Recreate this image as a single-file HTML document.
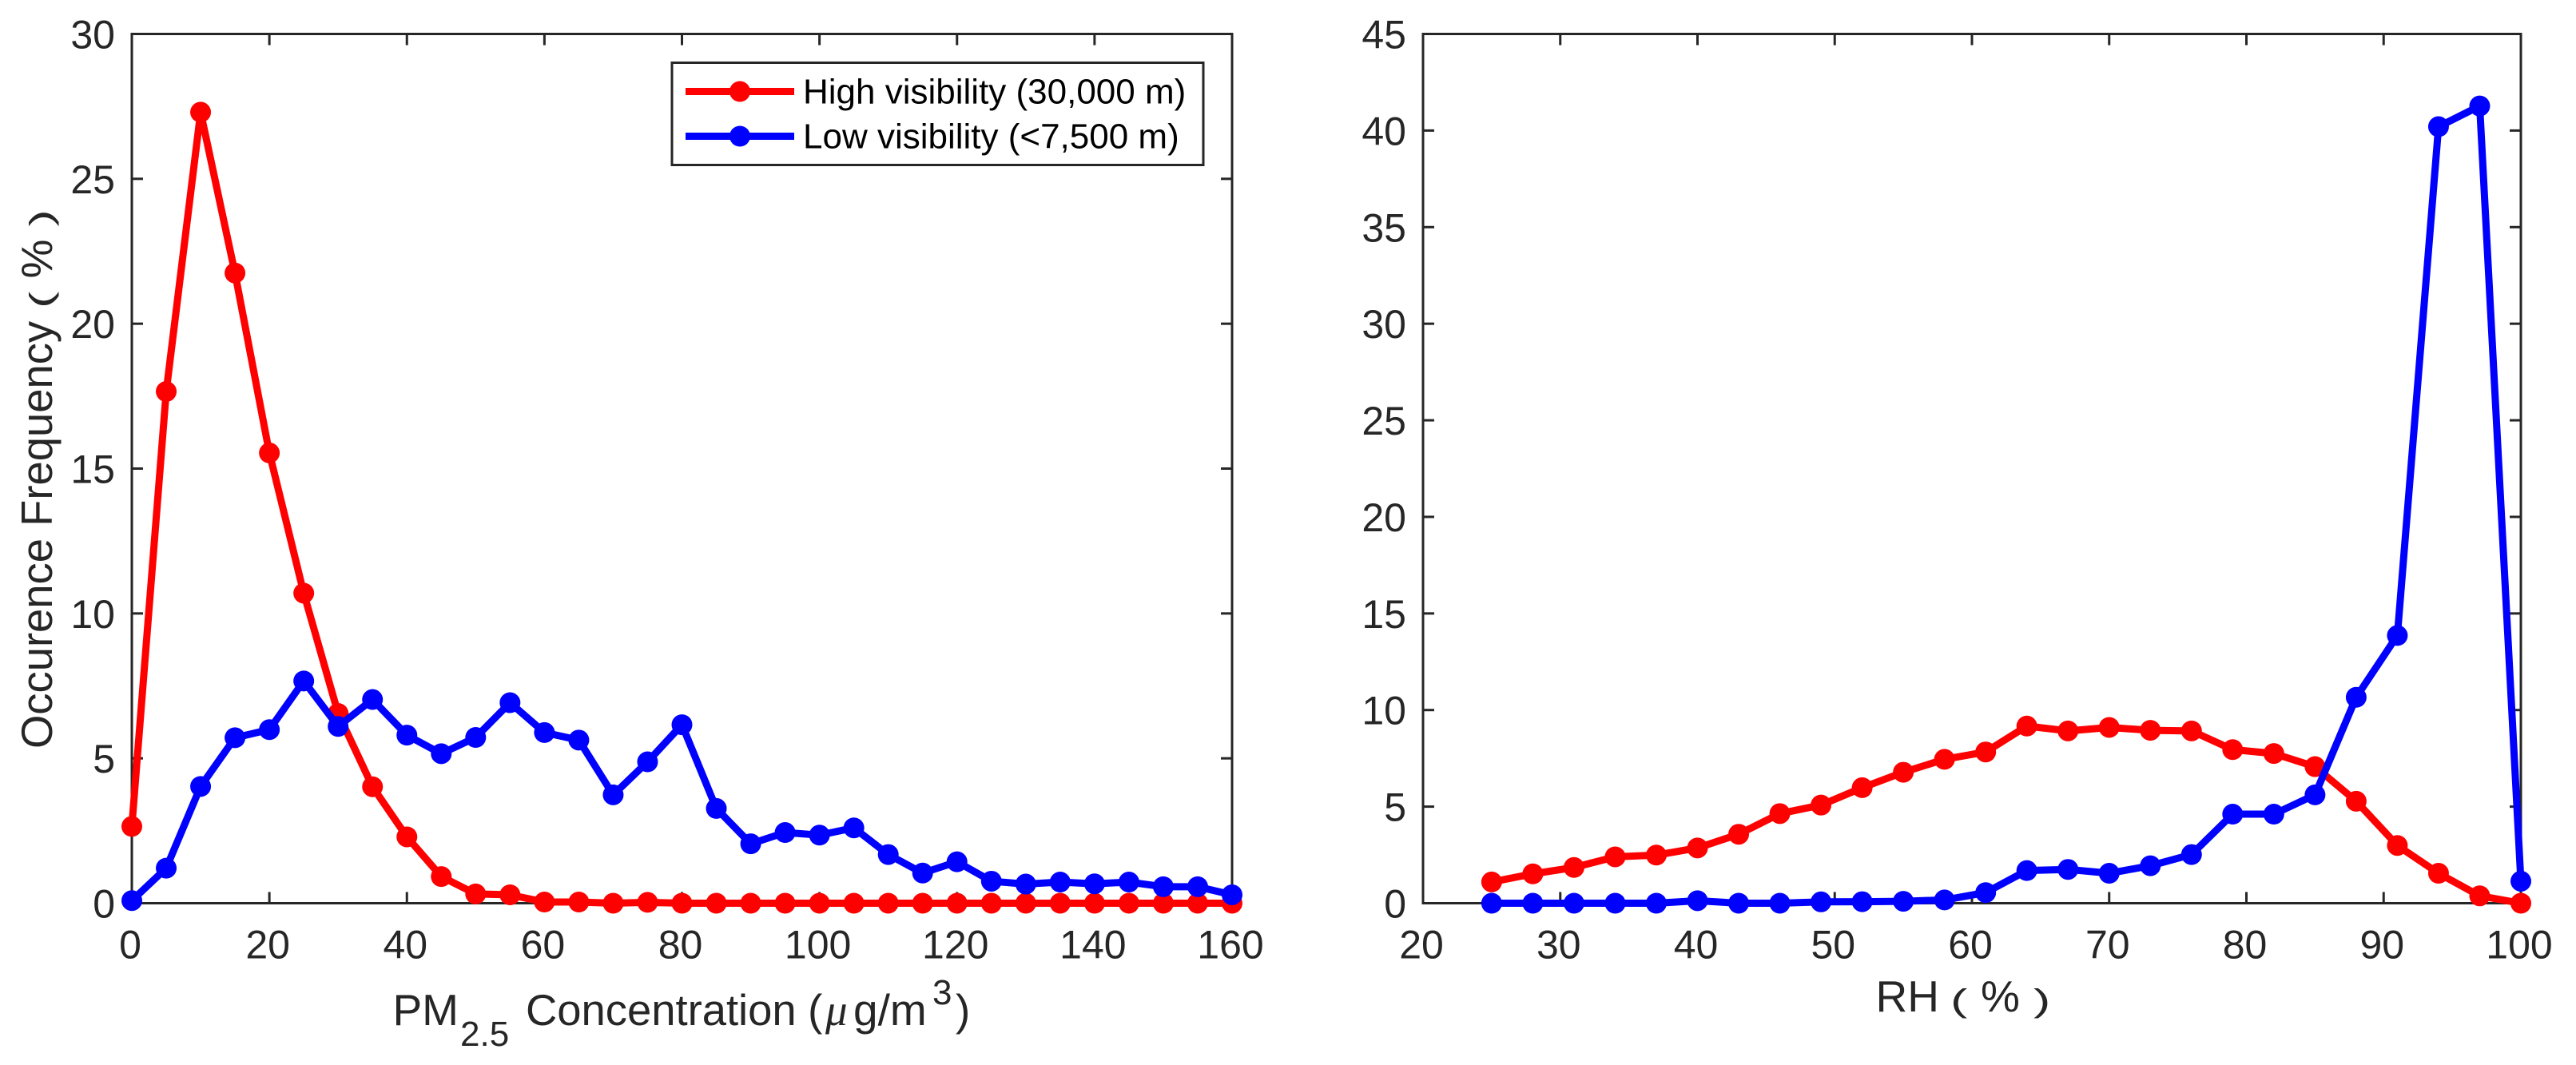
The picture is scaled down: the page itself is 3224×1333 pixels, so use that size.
<!DOCTYPE html>
<html lang="en">
<head>
<meta charset="utf-8">
<title>Occurrence frequency of PM2.5 and RH under high and low visibility</title>
<style>
  html, body { margin: 0; padding: 0; background: #ffffff; }
  body { width: 3224px; height: 1333px; overflow: hidden; }
  svg { display: block; font-family: "Liberation Sans", Arial, sans-serif; }
  .tick-label { font-size: 50px; fill: #262626; }
  .axis-title { font-size: 55px; fill: #262626; }
  .axis-title-tight { font-size: 54.4px; fill: #262626; }
  .axis-small { font-size: 44px; fill: #262626; }
  .paren { font-size: 40px; fill: #262626; }
  .legend-text { font-size: 44px; fill: #000000; }
</style>
</head>
<body>
<svg id="figure" xmlns="http://www.w3.org/2000/svg" width="3224" height="1333" viewBox="0 0 3224 1333">
  <rect x="0" y="0" width="3224" height="1333" fill="#ffffff"/>
  <g id="left-panel"></g>
  <g id="right-panel"></g>

  <g>
    <text class="axis-title" x="491.5" y="1283">PM</text>
    <text class="axis-small" x="576" y="1309">2.5</text>
    <text class="axis-title-tight" x="658" y="1283">Concentration</text>
    <text class="axis-title" x="1011" y="1283">(</text>
    <text class="axis-title" x="1033" y="1283" style="font-family:'Liberation Serif',serif;font-style:italic">μ</text>
    <text class="axis-title" x="1068" y="1283">g/m</text>
    <text class="axis-small" x="1167" y="1257">3</text>
    <text class="axis-title" x="1196" y="1283">)</text>
  </g>

  <g>
    <text class="axis-title-tight" transform="translate(65,937) rotate(-90)">Occurence Frequency</text>
    <text class="paren" transform="translate(65,386) rotate(-90) scale(1.6,1)">(</text>
    <text class="axis-title" transform="translate(65,348.5) rotate(-90)">%</text>
    <text class="paren" transform="translate(65,283.6) rotate(-90) scale(1.6,1)">)</text>
  </g>

  <g>
    <text class="axis-title" x="2347.5" y="1266">RH</text>
    <text class="paren" transform="translate(2441,1266) scale(1.6,1)">(</text>
    <text class="axis-title" x="2479" y="1266">%</text>
    <text class="paren" transform="translate(2545,1266) scale(1.6,1)">)</text>
  </g>

  <g id="legend">
    <rect x="841" y="78.5" width="665" height="128" fill="#ffffff" stroke="#262626" stroke-width="3"/>
    <g>
      <line x1="858" x2="994" y1="114.5" y2="114.5" stroke="#ff0000" stroke-width="9"/>
      <circle cx="926" cy="114.5" r="13" fill="#ff0000"/>
      <text class="legend-text" x="1005" y="129.5">High visibility (30,000 m)</text>
    </g>
    <g>
      <line x1="858" x2="994" y1="170.5" y2="170.5" stroke="#0000ff" stroke-width="9"/>
      <circle cx="926" cy="170.5" r="13" fill="#0000ff"/>
      <text class="legend-text" x="1005" y="185.5">Low visibility (&lt;7,500 m)</text>
    </g>
  </g>
</svg>

<script>
// Left panel data: PM2.5 concentration bins and occurrence frequency
const pmBins = [0,5,10,15,20,25,30,35,40,45,50,55,60,65,70,75,80,85,90,95,100,105,110,115,120,125,130,135,140,145,150,155,160];
const pmHigh = [2.65,17.66,27.3,21.75,15.54,10.7,6.55,4.02,2.29,0.92,0.32,0.29,0.04,0.04,0,0.03,0,0,0,0,0,0,0,0,0,0,0,0,0,0,0,0,0];
const pmLow = [0.09,1.21,4.03,5.71,5.99,7.67,6.1,7.03,5.8,5.16,5.72,6.92,5.89,5.63,3.74,4.88,6.16,3.27,2.05,2.44,2.35,2.6,1.68,1.04,1.43,0.76,0.66,0.73,0.67,0.73,0.57,0.57,0.29];
const pmXTicks = [0,20,40,60,80,100,120,140,160];
const pmYTicks = [0,5,10,15,20,25,30];

// Right panel data: relative humidity bins and occurrence frequency
const rhBins = [25,28,31,34,37,40,43,46,49,52,55,58,61,64,67,70,73,76,79,82,85,88,91,94,97,100];
const rhHigh = [1.1,1.52,1.85,2.4,2.49,2.86,3.57,4.64,5.08,5.98,6.78,7.45,7.83,9.17,8.92,9.1,8.95,8.92,7.95,7.75,7.07,5.28,2.99,1.55,0.38,0];
const rhLow = [0,0,0,0,0,0.13,0,0,0.07,0.08,0.1,0.17,0.55,1.69,1.75,1.55,1.94,2.52,4.61,4.61,5.61,10.66,13.86,40.2,41.27,1.14];
const rhXTicks = [20,30,40,50,60,70,80,90,100];
const rhYTicks = [0,5,10,15,20,25,30,35,40,45];

const SVG_NS = 'http://www.w3.org/2000/svg';
const INK = '#262626';

function make(parent, tag, attrs, text) {
  const el = document.createElementNS(SVG_NS, tag);
  for (const k in attrs) el.setAttribute(k, attrs[k]);
  if (text !== undefined) el.textContent = text;
  parent.appendChild(el);
  return el;
}

function drawPanel(root, box, xDomain, yDomain, xTicks, yTicks, series) {
  const sx = v => box.left + (v - xDomain[0]) / (xDomain[1] - xDomain[0]) * (box.right - box.left);
  const sy = v => box.bottom - (v - yDomain[0]) / (yDomain[1] - yDomain[0]) * (box.bottom - box.top);
  const tickLen = 14;

  const frame = make(root, 'rect', {x: box.left, y: box.top, width: box.right - box.left, height: box.bottom - box.top, fill: 'none', stroke: INK, 'stroke-width': 3});
  
  

  xTicks.forEach(t => {
    const x = sx(t);
    const bottomTick = make(root, 'line', {x1: x, x2: x, y1: box.bottom, y2: box.bottom - tickLen, stroke: INK, 'stroke-width': 3});
    
    
    const topTick = make(root, 'line', {x1: x, x2: x, y1: box.top, y2: box.top + tickLen, stroke: INK, 'stroke-width': 3});
    
    
    const label = make(root, 'text', {x: x - 2, y: 1199.5, 'text-anchor': 'middle', class: 'tick-label'}, String(t));
    
    
  });

  yTicks.forEach(t => {
    const y = sy(t);
    const leftTick = make(root, 'line', {x1: box.left, x2: box.left + tickLen, y1: y, y2: y, stroke: INK, 'stroke-width': 3});
    
    
    const rightTick = make(root, 'line', {x1: box.right, x2: box.right - tickLen, y1: y, y2: y, stroke: INK, 'stroke-width': 3});
    
    
    const label = make(root, 'text', {x: box.left - 21, y: y + 18, 'text-anchor': 'end', class: 'tick-label'}, String(t));
    
    
  });

  series.forEach(s => {
    const g = make(root, 'g', {});
    
    
    const pts = s.xs.map((x, i) => sx(x).toFixed(2) + ',' + sy(s.ys[i]).toFixed(2)).join(' ');
    const line = make(g, 'polyline', {points: pts, fill: 'none', stroke: s.color, 'stroke-width': 9, 'stroke-linejoin': 'round'});
    
    
    s.xs.forEach((x, i) => {
      const dot = make(g, 'circle', {cx: sx(x).toFixed(2), cy: sy(s.ys[i]).toFixed(2), r: 13, fill: s.color});
      
      
    });
  });
}

drawPanel(document.getElementById('left-panel'),
  {left: 165, right: 1542, top: 42.5, bottom: 1130.5},
  [0, 160], [0, 30], pmXTicks, pmYTicks,
  [{name: 'high-visibility-series', color: '#ff0000', xs: pmBins, ys: pmHigh},
   {name: 'low-visibility-series', color: '#0000ff', xs: pmBins, ys: pmLow}]);

drawPanel(document.getElementById('right-panel'),
  {left: 1781, right: 3155, top: 42.5, bottom: 1130.5},
  [20, 100], [0, 45], rhXTicks, rhYTicks,
  [{name: 'high-visibility-series', color: '#ff0000', xs: rhBins, ys: rhHigh},
   {name: 'low-visibility-series', color: '#0000ff', xs: rhBins, ys: rhLow}]);

// Keep the legend above the plotted series
const svgRoot = document.getElementById('figure');
svgRoot.appendChild(document.getElementById('legend'));
</script>
</body>
</html>
